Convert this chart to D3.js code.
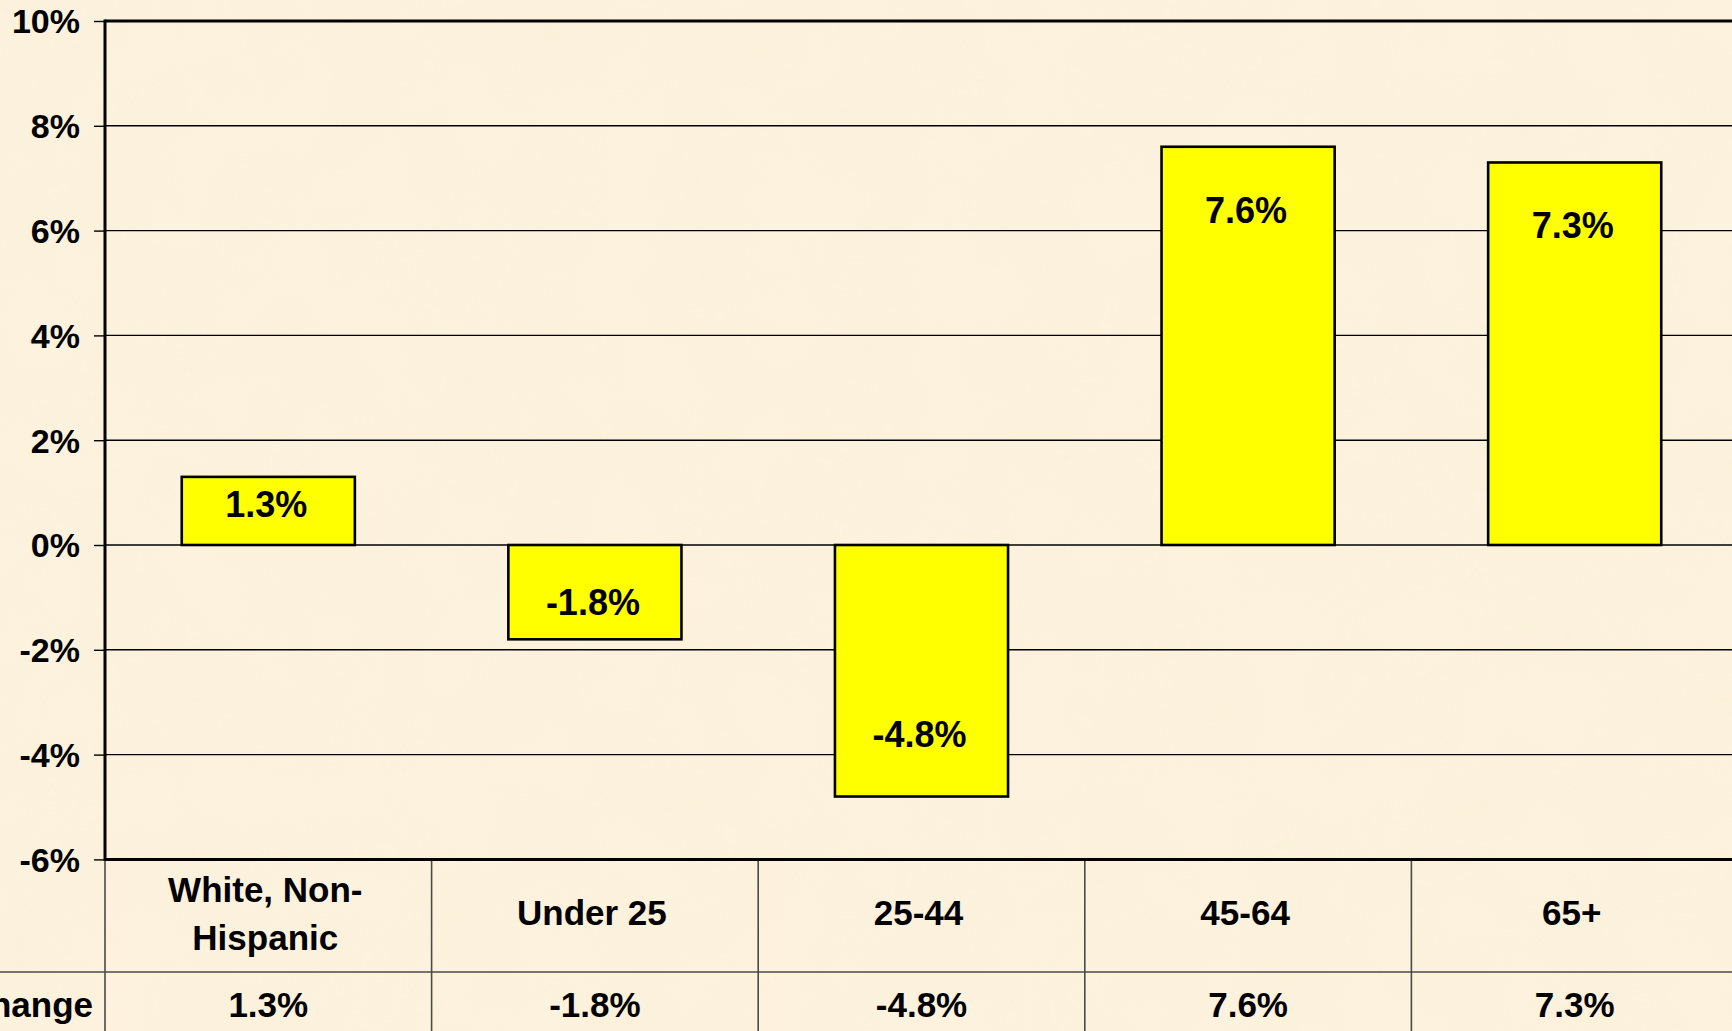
<!DOCTYPE html>
<html>
<head>
<meta charset="utf-8">
<script src="https://cdn.jsdelivr.net/npm/d3@7"></script>
<style>
  html, body { margin: 0; padding: 0; background: #FBF0D9; overflow: hidden; }
  svg { display: block; }
  text { font-family: "Liberation Sans", Arial, sans-serif; font-weight: bold; fill: #000; }
</style>
</head>
<body>
<script>
// ---- data ----
const categories = [["White, Non-", "Hispanic"], ["Under 25"], ["25-44"], ["45-64"], ["65+"]];
const values = [1.3, -1.8, -4.8, 7.6, 7.3];
const yTicks = [-6, -4, -2, 0, 2, 4, 6, 8, 10];
const rowLabel = "% Change";

// ---- layout ----
const W = 1732, H = 1031;
const plotLeft = 105, plotRight = 1738, plotTop = 21, plotBottom = 859.4;
const tableMid = 972, tableBottom = H;

const svg = d3.select("body").append("svg").attr("width", W).attr("height", H);

// background with subtle parchment texture
const defs = svg.append("defs");
const f = defs.append("filter").attr("id", "paper").attr("x", 0).attr("y", 0).attr("width", "100%").attr("height", "100%");
f.append("feTurbulence").attr("type", "fractalNoise").attr("baseFrequency", "0.012").attr("numOctaves", 3).attr("seed", 4).attr("result", "n");
f.append("feColorMatrix").attr("in", "n").attr("type", "matrix")
  .attr("values", "0 0 0 0 0.93  0 0 0 0 0.85  0 0 0 0 0.66  0 0 0 -0.9 0.55");
svg.append("rect").attr("width", W).attr("height", H).attr("fill", "#FCF2DD");
svg.append("rect").attr("width", W).attr("height", H).attr("filter", "url(#paper)").attr("opacity", 0.4);

const x = d3.scaleBand().domain(d3.range(categories.length)).range([plotLeft, plotRight]).padding(0);
const y = d3.scaleLinear().domain([-6, 10]).range([plotBottom, plotTop]);
const fmt = v => d3.format(".1f")(v).replace("\u2212", "-") + "%";

// y axis ticks and labels
const yAxis = d3.axisLeft(y).tickValues(yTicks).tickSize(plotLeft - 94).tickFormat(d => d + "%");
const gAxis = svg.append("g").attr("transform", `translate(${plotLeft},0)`).call(yAxis);
gAxis.select(".domain").remove();
gAxis.selectAll(".tick line").attr("stroke", "#000").attr("stroke-width", 1.4);
gAxis.selectAll(".tick text").attr("x", -(plotLeft - 80)).attr("dy", "0.35em")
  .style("font-size", "34px").style("font-family", "'Liberation Sans', Arial, sans-serif").style("font-weight", "bold").attr("fill", "#000");

// gridlines
svg.append("g").selectAll("line.grid").data(yTicks.filter(t => t !== -6 && t !== 10)).join("line")
  .attr("x1", plotLeft).attr("x2", W).attr("y1", d => y(d)).attr("y2", d => y(d))
  .attr("stroke", "#000").attr("stroke-width", 1.4);

// bars
const barW = x.bandwidth() * 0.53;
svg.append("g").selectAll("rect").data(values).join("rect")
  .attr("x", (d, i) => x(i) + (x.bandwidth() - barW) / 2)
  .attr("width", barW)
  .attr("y", d => y(Math.max(0, d)))
  .attr("height", d => Math.abs(y(d) - y(0)))
  .attr("fill", "#FFFF00").attr("stroke", "#000").attr("stroke-width", 2.6);

// bar labels
svg.append("g").selectAll("text").data(values).join("text")
  .attr("x", (d, i) => x(i) + x.bandwidth() / 2 - 2)
  .attr("y", d => y(d - Math.sign(d) * Math.min(Math.abs(d) * 0.4, 1.2)))
  .attr("dy", "0.36em")
  .attr("text-anchor", "middle").style("font-size", "36px")
  .text(d => fmt(d));

// plot frame (top, left, bottom)
svg.append("line").attr("x1", plotLeft).attr("x2", W).attr("y1", y(10)).attr("y2", y(10)).attr("stroke", "#000").attr("stroke-width", 3);
svg.append("line").attr("x1", plotLeft).attr("x2", W).attr("y1", y(-6)).attr("y2", y(-6)).attr("stroke", "#000").attr("stroke-width", 3);
svg.append("line").attr("x1", plotLeft).attr("x2", plotLeft).attr("y1", y(10) - 1.5).attr("y2", y(-6) + 1.5).attr("stroke", "#000").attr("stroke-width", 3);

// data table
const tbl = svg.append("g");
tbl.selectAll("line.v").data(d3.range(categories.length)).join("line")
  .attr("x1", i => x(i)).attr("x2", i => x(i))
  .attr("y1", y(-6) + 1.5).attr("y2", tableBottom)
  .attr("stroke", "#4a4a4a").attr("stroke-width", 1.6);
tbl.append("line").attr("x1", 0).attr("x2", W).attr("y1", tableMid).attr("y2", tableMid)
  .attr("stroke", "#4a4a4a").attr("stroke-width", 1.6);

// category labels
const catG = tbl.selectAll("text.cat").data(categories).join("text")
  .attr("text-anchor", "middle").style("font-size", "35px");
catG.each(function(lines, i) {
  const t = d3.select(this);
  const cx = x(i) + x.bandwidth() / 2;
  const base = lines.length === 1 ? 925 : 902;
  lines.forEach((ln, j) => {
    t.append("tspan").attr("x", cx - 3).attr("y", base + j * 48).text(ln);
  });
});

// value row
tbl.selectAll("text.val").data(values).join("text")
  .attr("x", (d, i) => x(i) + x.bandwidth() / 2)
  .attr("y", 1017)
  .attr("text-anchor", "middle").style("font-size", "35px")
  .text(d => fmt(d));

// row header (partly off the left edge, as in the reference)
tbl.append("text").attr("x", 93).attr("y", 1017).attr("text-anchor", "end")
  .style("font-size", "35px").text(rowLabel);
</script>
</body>
</html>
